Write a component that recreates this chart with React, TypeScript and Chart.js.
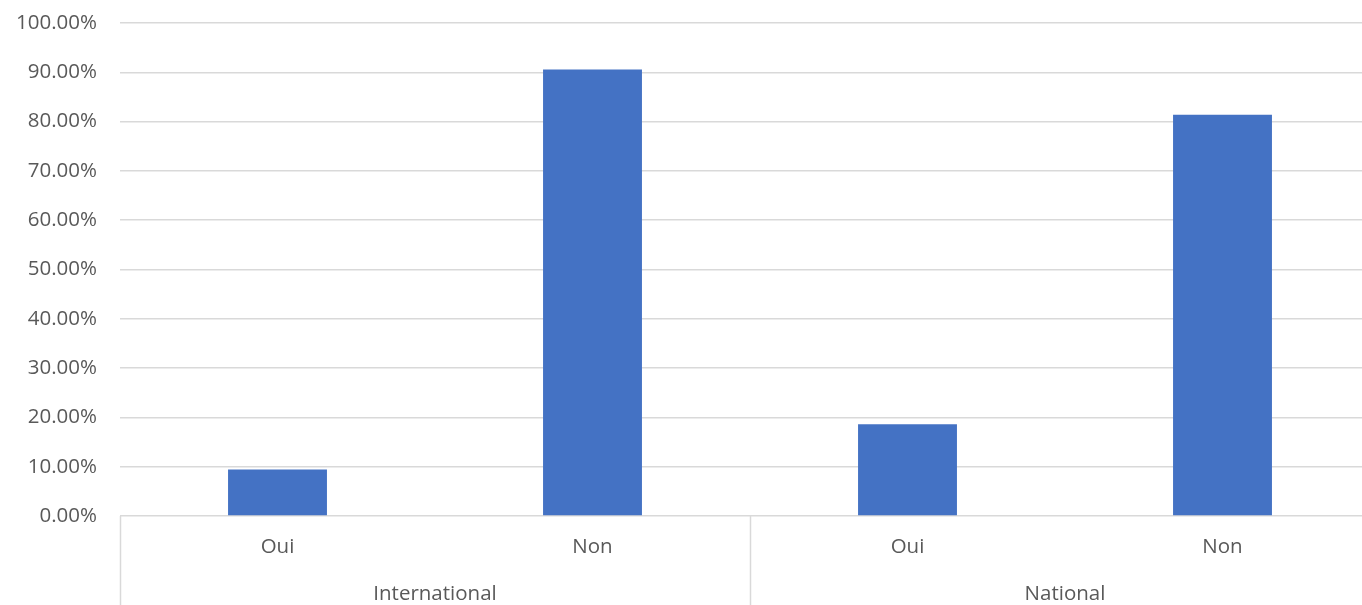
import React, { useEffect, useRef } from "react";
import { Chart, registerables } from "chart.js";

Chart.register(...registerables);

const groups = ["International", "National"];
const categories = ["Oui", "Non", "Oui", "Non"];
const values = [9.43, 90.57, 18.6, 81.4];
const yTicks = [0, 10, 20, 30, 40, 50, 60, 70, 80, 90, 100];

const FONT = "'Open Sans', sans-serif";
const TEXT = "#595959";
const GRID = "#d9d9d9";

const multiLevelAxis = {
  id: "multiLevelAxis",
  afterDraw(chart: any) {
    const ctx = chart.ctx;
    const x = chart.scales.x;
    const bottom = chart.chartArea.bottom;
    const h = chart.height;
    ctx.save();
    ctx.strokeStyle = GRID;
    ctx.lineWidth = 1.5;
    const bounds = [-0.5, 1.5, 3.5];
    bounds.forEach((b) => {
      const px = Math.round(x.getPixelForValue(b)) + 0.5;
      ctx.beginPath();
      ctx.moveTo(px, bottom);
      ctx.lineTo(px, h);
      ctx.stroke();
    });
    ctx.fillStyle = TEXT;
    ctx.font = `20.5px ${FONT}`;
    ctx.textAlign = "center";
    ctx.textBaseline = "middle";
    categories.forEach((c, i) => {
      ctx.fillText(c, x.getPixelForValue(i), bottom + 31);
    });
    groups.forEach((g, gi) => {
      const cx = (x.getPixelForValue(gi * 2) + x.getPixelForValue(gi * 2 + 1)) / 2;
      ctx.fillText(g, cx, bottom + 78);
    });
    ctx.restore();
  },
};

export default function App() {
  const ref = useRef<HTMLCanvasElement>(null);
  useEffect(() => {
    if (!ref.current) return;
    const chart = new Chart(ref.current, {
      type: "bar",
      data: {
        labels: categories.map((c, i) => `${groups[Math.floor(i / 2)]} ${c}`),
        datasets: [
          {
            data: values,
            backgroundColor: "#4472C4",
            borderWidth: 0,
            categoryPercentage: 1,
            barPercentage: 0.314,
          },
        ],
      },
      options: {
        animation: false,
        responsive: false,
        maintainAspectRatio: false,
        layout: { padding: { top: 23, left: 0, right: 0, bottom: 0 } },
        plugins: { legend: { display: false }, tooltip: { enabled: false } },
        scales: {
          x: {
            type: "category",
            grid: { display: false },
            border: { display: false },
            ticks: { display: false },
            afterFit: (s: any) => {
              s.height = 89;
            },
          },
          y: {
            min: 0,
            max: 100,
            afterBuildTicks: (s: any) => {
              s.ticks = yTicks.map((v) => ({ value: v }));
            },
            grid: { color: GRID, lineWidth: 1.5, drawTicks: true, tickLength: 23, tickColor: "rgba(0,0,0,0)" },
            border: { display: false },
            ticks: {
              padding: 0,
              color: TEXT,
              font: { family: FONT, size: 20.5 },
              callback: (v: any) => Number(v).toFixed(2) + "%",
            },
            afterFit: (s: any) => {
              s.width = 120;
            },
          },
        },
      },
      plugins: [multiLevelAxis],
    });
    return () => chart.destroy();
  }, []);
  return (
    <div style={{ position: "absolute", left: 0, top: 0, width: 1362, height: 605, overflow: "hidden", background: "#fff" }}>
      <canvas ref={ref} width={1380} height={605} style={{ display: "block", width: 1380, height: 605 }} />
    </div>
  );
}
